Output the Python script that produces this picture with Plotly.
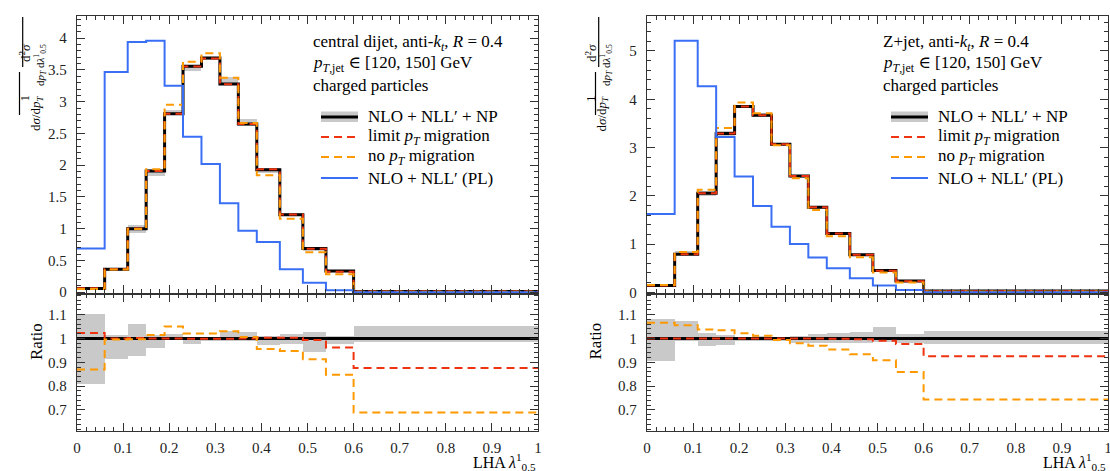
import numpy as np
import plotly.graph_objects as go

W, H = 1110, 471

# ---------------- data ----------------
edges = [0.0, 0.06, 0.11, 0.15, 0.19, 0.23, 0.27, 0.31, 0.35, 0.39, 0.44, 0.49, 0.54, 0.60, 1.0]

# central dijet
dijet_np = [0.06, 0.36, 1.00, 1.91, 2.81, 3.56, 3.69, 3.28, 2.65, 1.93, 1.22, 0.69, 0.335, 0.012]
dijet_pl = [0.69, 3.47, 3.94, 3.96, 3.25, 2.45, 2.02, 1.40, 0.97, 0.79, 0.36, 0.15, 0.03, 0.0]
dijet_ratio_nomig = [0.87, 0.995, 0.996, 1.014, 1.05, 1.02, 1.02, 1.03, 1.006, 0.955, 0.947, 0.913, 0.848, 0.69]
dijet_ratio_limit = [1.023, 1.0, 1.002, 1.0, 1.0, 0.998, 0.998, 0.998, 1.0, 1.003, 1.003, 0.993, 0.962, 0.876]
dijet_band_lo = [0.81, 0.915, 0.927, 0.96, 0.997, 0.98, 0.99, 0.993, 0.99, 0.973, 0.98, 0.946, 0.98, 0.986]
dijet_band_hi = [1.105, 1.018, 1.062, 1.018, 1.02, 1.007, 1.004, 1.035, 1.028, 1.014, 1.02, 1.027, 1.014, 1.054]

# Z+jet
zjet_np = [0.14, 0.79, 2.05, 3.29, 3.85, 3.67, 3.07, 2.41, 1.76, 1.22, 0.78, 0.45, 0.235, 0.025]
zjet_pl = [1.62, 5.21, 4.27, 3.22, 2.40, 1.79, 1.36, 1.00, 0.72, 0.50, 0.29, 0.14, 0.05, 0.0]
zjet_ratio_nomig = [1.065, 1.055, 1.037, 1.034, 1.021, 1.011, 0.993, 0.98, 0.969, 0.953, 0.934, 0.908, 0.859, 0.744]
zjet_ratio_limit = [1.0, 1.0, 1.0, 1.0, 1.0, 1.0, 1.0, 1.0, 1.0, 0.998, 0.996, 0.99, 0.976, 0.925]
zjet_band_lo = [0.906, 0.99, 0.97, 0.976, 0.99, 0.99, 0.992, 0.983, 0.983, 0.983, 0.982, 0.986, 0.982, 0.979]
zjet_band_hi = [1.082, 1.077, 1.023, 1.018, 1.007, 1.011, 1.009, 1.011, 1.02, 1.025, 1.028, 1.049, 1.02, 1.032]

x_ticks = [0, 0.1, 0.2, 0.3, 0.4, 0.5, 0.6, 0.7, 0.8, 0.9, 1.0]
labels_dijet = ["central dijet, anti-<i>k<sub>t</sub></i>, <i>R</i> = 0.4",
                "<i>p</i><sub><i>T</i>,jet</sub> ∈ [120, 150] GeV",
                "charged particles"]
labels_zjet = ["Z+jet, anti-<i>k<sub>t</sub></i>, <i>R</i> = 0.4",
               "<i>p</i><sub><i>T</i>,jet</sub> ∈ [120, 150] GeV",
               "charged particles"]
legend_names = ["NLO + NLL′ + NP", "limit <i>p<sub>T</sub></i> migration",
                "no <i>p<sub>T</sub></i> migration", "NLO + NLL′ (PL)"]

# ---------------- style ----------------
FONT = "Liberation Serif, Times New Roman, DejaVu Serif, serif"
C_BLACK = "#000000"
C_RED = "#ee3311"
C_ORANGE = "#ff9900"
C_BLUE = "#3a6ff5"
C_BAND = "#c9c9c9"
DASH = "8px,5px"


def px(x):
    return x / W


def py(y):
    return 1 - y / H


edges_a = np.array(edges)
centers = 0.5 * (edges_a[1:] + edges_a[:-1])
widths = edges_a[1:] - edges_a[:-1]


def step(vals):
    v = list(vals)
    return v + [v[-1]]


fig = go.Figure()

panels = [
    dict(xa="x", ya="y", xr="x2", yr="y2", np_=dijet_np, pl=dijet_pl, rn=dijet_ratio_nomig,
         rl=dijet_ratio_limit, lo=dijet_band_lo, hi=dijet_band_hi),
    dict(xa="x3", ya="y3", xr="x4", yr="y4", np_=zjet_np, pl=zjet_pl, rn=zjet_ratio_nomig,
         rl=zjet_ratio_limit, lo=zjet_band_lo, hi=zjet_band_hi),
]

for p in panels:
    npv = np.array(p["np_"])
    lo = np.array(p["lo"])
    hi = np.array(p["hi"])
    rn = np.array(p["rn"])
    rl = np.array(p["rl"])
    # top panel band
    fig.add_trace(go.Bar(x=centers, y=npv * (hi - lo), base=npv * lo, width=widths,
                         marker=dict(color=C_BAND, line=dict(width=0)),
                         xaxis=p["xa"], yaxis=p["ya"], showlegend=False, hoverinfo="skip"))
    fig.add_trace(go.Scatter(x=edges, y=step(npv), mode="lines", line=dict(color=C_BLACK, width=3, shape="hv"),
                             xaxis=p["xa"], yaxis=p["ya"], showlegend=False))
    fig.add_trace(go.Scatter(x=edges, y=step(npv * rl), mode="lines",
                             line=dict(color=C_RED, width=2, shape="hv", dash=DASH),
                             xaxis=p["xa"], yaxis=p["ya"], showlegend=False))
    fig.add_trace(go.Scatter(x=edges, y=step(npv * rn), mode="lines",
                             line=dict(color=C_ORANGE, width=2, shape="hv", dash=DASH),
                             xaxis=p["xa"], yaxis=p["ya"], showlegend=False))
    fig.add_trace(go.Scatter(x=edges, y=step(p["pl"]), mode="lines",
                             line=dict(color=C_BLUE, width=2, shape="hv"),
                             xaxis=p["xa"], yaxis=p["ya"], showlegend=False))
    # ratio panel
    fig.add_trace(go.Bar(x=centers, y=hi - lo, base=lo, width=widths,
                         marker=dict(color=C_BAND, line=dict(width=0)),
                         xaxis=p["xr"], yaxis=p["yr"], showlegend=False, hoverinfo="skip"))
    fig.add_trace(go.Scatter(x=edges, y=step(npv / npv), mode="lines", line=dict(color=C_BLACK, width=3, shape="hv"),
                             xaxis=p["xr"], yaxis=p["yr"], showlegend=False))
    fig.add_trace(go.Scatter(x=edges, y=step(rl), mode="lines",
                             line=dict(color=C_RED, width=2, shape="hv", dash=DASH),
                             xaxis=p["xr"], yaxis=p["yr"], showlegend=False))
    fig.add_trace(go.Scatter(x=edges, y=step(rn), mode="lines",
                             line=dict(color=C_ORANGE, width=2, shape="hv", dash=DASH),
                             xaxis=p["xr"], yaxis=p["yr"], showlegend=False))

# ---------------- axes ----------------
left_dom = [px(77), px(538)]
right_dom = [px(647), px(1108)]
top_dom = [py(293.5), py(16)]
rat_dom = [py(431), py(293.5)]

tickfont = dict(family=FONT, size=15, color="#222")


def xax(domain, anchor, labels):
    return dict(domain=domain, anchor=anchor, range=[0, 1], tickvals=x_ticks, automargin=False,
                showticklabels=labels, ticks="inside", ticklen=8, tickwidth=1.2, tickcolor="#333",
                minor=dict(ticks="inside", dtick=0.02, ticklen=4, tickwidth=1, tickcolor="#333"),
                showline=True, linecolor="#333", linewidth=1.3, mirror="allticks",
                showgrid=False, zeroline=False, tickfont=tickfont, ticklabelstandoff=3,
                ticklabeloverflow="allow")


def yax(domain, anchor, rng, dtick, mdtick, tvals=None):
    d = dict(domain=domain, anchor=anchor, range=rng, ticks="inside", ticklen=8, tickwidth=1.2,
             automargin=False, tickcolor="#333",
             minor=dict(ticks="inside", dtick=mdtick, ticklen=4, tickwidth=1, tickcolor="#333"),
             showline=True, linecolor="#333", linewidth=1.3, mirror="allticks",
             showgrid=False, zeroline=False, tickfont=tickfont, ticklabelstandoff=6,
             ticklabeloverflow="allow")
    if tvals is not None:
        d["tickvals"] = tvals
    else:
        d["dtick"] = dtick
        d["tick0"] = 0
    return d


fig.update_layout(
    xaxis=xax(left_dom, "y", False),
    yaxis=yax(top_dom, "x", [-0.02, 4.35], 0.5, 0.1),
    xaxis2=xax(left_dom, "y2", True),
    yaxis2=yax(rat_dom, "x2", [0.612, 1.188], None, 0.02, [0.7, 0.8, 0.9, 1.0, 1.1]),
    xaxis3=xax(right_dom, "y3", False),
    yaxis3=yax(top_dom, "x3", [-0.025, 5.725], 1, 0.2),
    xaxis4=xax(right_dom, "y4", True),
    yaxis4=yax(rat_dom, "x4", [0.612, 1.188], None, 0.02, [0.7, 0.8, 0.9, 1.0, 1.1]),
)

# ---------------- annotations & legend ----------------
TXT = 17
ann = []
shapes = []
for off, labels in [(0, labels_dijet), (570, labels_zjet)]:
    for i, t in enumerate(labels):
        ann.append(dict(x=px(311 + off), y=py([43, 64.5, 86][i]), xref="paper", yref="paper",
                        text=t, showarrow=False, xanchor="left", yanchor="middle",
                        font=dict(family=FONT, size=TXT, color="#000")))
    rows = [117, 137, 157, 178]
    x0, x1 = px(321 + off), px(358 + off)
    shapes.append(dict(type="rect", xref="paper", yref="paper", x0=x0, x1=x1, y0=py(122), y1=py(111.5),
                       fillcolor=C_BAND, line=dict(width=0), layer="above"))
    shapes.append(dict(type="line", xref="paper", yref="paper", x0=x0, x1=x1, y0=py(rows[0]), y1=py(rows[0]),
                       line=dict(color=C_BLACK, width=3)))
    shapes.append(dict(type="line", xref="paper", yref="paper", x0=x0, x1=x1, y0=py(rows[1]), y1=py(rows[1]),
                       line=dict(color=C_RED, width=2, dash=DASH)))
    shapes.append(dict(type="line", xref="paper", yref="paper", x0=x0, x1=x1, y0=py(rows[2]), y1=py(rows[2]),
                       line=dict(color=C_ORANGE, width=2, dash=DASH)))
    shapes.append(dict(type="line", xref="paper", yref="paper", x0=x0, x1=x1, y0=py(rows[3]), y1=py(rows[3]),
                       line=dict(color=C_BLUE, width=2)))
    for r, t in zip(rows, legend_names):
        ann.append(dict(x=px(366 + off), y=py(r), xref="paper", yref="paper", text=t, showarrow=False,
                        xanchor="left", yanchor="middle", font=dict(family=FONT, size=TXT, color="#000")))
    # x-axis title
    ann.append(dict(x=px(538 + off), y=py(462), xref="paper", yref="paper",
                    text="LHA <i>λ</i><sup>1</sup><sub>0.5</sub>", showarrow=False,
                    xanchor="right", yanchor="middle", font=dict(family=FONT, size=16, color="#000")))

# y-axis titles (fractions)
for off in [0, 576]:
    f = dict(family=FONT, size=13, color="#000")
    ann.append(dict(x=px(14.5 + off), y=py(93), xref="paper", yref="paper", text="1", textangle=-90,
                    showarrow=False, font=f))
    ann.append(dict(x=px(26 + off), y=py(93.5), xref="paper", yref="paper",
                    text="d<i>σ</i>/d<i>p<sub>T</sub></i>", textangle=-90, showarrow=False, font=f))
    shapes.append(dict(type="line", xref="paper", yref="paper", x0=px(19.5 + off), x1=px(19.5 + off),
                       y0=py(115), y1=py(72), line=dict(color="#000", width=1.2)))
    ann.append(dict(x=px(15 + off), y=py(42), xref="paper", yref="paper", text="d<sup>2</sup><i>σ</i>",
                    textangle=-90, showarrow=False, font=f))
    ann.append(dict(x=px(30 + off), y=py(42), xref="paper", yref="paper",
                    text="d<i>p<sub>T</sub></i> d<i>λ</i><sup>1</sup><sub>0.5</sub>",
                    textangle=-90, showarrow=False, font=dict(family=FONT, size=11, color="#000")))
    shapes.append(dict(type="line", xref="paper", yref="paper", x0=px(22.7 + off), x1=px(22.7 + off),
                       y0=py(67), y1=py(17), line=dict(color="#000", width=1.2)))

for xx in [25, 595]:
    ann.append(dict(x=px(xx), y=py(362), xref="paper", yref="paper", text="Ratio", textangle=-90,
                    showarrow=False, font=dict(family=FONT, size=TXT, color="#000")))

fig.update_layout(
    width=W, height=H, margin=dict(l=0, r=0, t=0, b=0, autoexpand=False),
    paper_bgcolor="white", plot_bgcolor="white",
    barmode="overlay", bargap=0, showlegend=False,
    annotations=ann, shapes=shapes,
    font=dict(family=FONT),
)

fig.write_html("out.html", config={"displayModeBar": False},
               post_script="document.body.style.margin='0';document.body.style.overflow='hidden';")
